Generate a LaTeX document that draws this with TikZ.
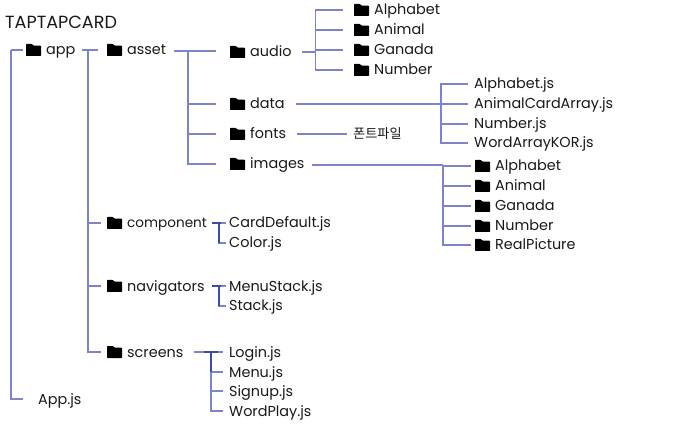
\documentclass[tikz,border=0pt]{standalone}
\usepackage{fontspec}
\setmainfont{Poppins}
\newfontfamily\krfont{Noto Sans CJK KR}
\usetikzlibrary{positioning,calc}
\definecolor{TreeLine}{HTML}{7C85C9}
\definecolor{TreeDark}{HTML}{3E4BAB}
\tikzset{
  ln/.style={TreeLine,line width=1.4pt},
  lndk/.style={TreeDark,line width=1.4pt},
  folder/.style={minimum width=15pt,minimum height=12pt,inner sep=0pt,outer sep=0pt,
    path picture={\fill[black,rounded corners=.7pt]
      ([yshift=-12pt]path picture bounding box.north west) --
      (path picture bounding box.north west) -- ++(6pt,0) -- ++(1.5pt,-1.6pt) --
      ([yshift=-1.6pt]path picture bounding box.north east) --
      (path picture bounding box.south east) -- cycle;}},
  lbl/.style={anchor=west,inner sep=0pt,text height=12pt,text depth=2pt,
    font=\fontsize{14.4}{16}\selectfont,text=black!90}
}
\begin{document}
\begin{tikzpicture}[x=1pt,y=-1pt]
  \useasboundingbox (0,0) rectangle (682,435);
  \node[lbl,font=\fontsize{17.6}{20}\selectfont] (root) at (5,23.5) {TAPTAPCARD};
  % app level
  \node[folder] (appf) at (33.5,50) {};
  \node[lbl,right=5pt of appf] (app) {app};
  \node[lbl] (appjs) at (38,399) {App.js};
  \node[folder] (assetf) at (114.5,50) {};
  \node[lbl,right=5pt of assetf] (asset) {asset};
  \node[folder] (compf) at (114.5,223) {};
  \node[lbl,right=5pt of compf,font=\fontsize{13.6}{16}\selectfont] (comp) {component};
  \node[folder] (navf) at (114.5,286) {};
  \node[lbl,right=5pt of navf] (nav) {navigators};
  \node[folder] (scrf) at (114.5,352) {};
  \node[lbl,right=5pt of scrf] (scr) {screens};
  % asset level
  \node[folder] (audiof) at (237.5,52) {};
  \node[lbl,right=5pt of audiof] (audio) {audio};
  \node[folder] (dataf) at (237.5,104) {};
  \node[lbl,right=5pt of dataf] (data) {data};
  \node[folder] (fontsf) at (237.5,134) {};
  \node[lbl,right=5pt of fontsf] (fonts) {fonts};
  \node[folder] (imagesf) at (237.5,164) {};
  \node[lbl,right=5pt of imagesf] (images) {images};
  \node[lbl,font=\krfont\fontsize{13.2}{15}\selectfont] (fontfile) at (353,134) {폰트파일};
  % audio folders
  \foreach \n/\t/\y in {aua/Alphabet/10,aub/Animal/30,auc/Ganada/50,aud/Number/70}{
    \node[folder] (\n f) at (361.5,\y) {};
    \node[lbl,right=5pt of \n f] (\n) {\t};
  }
  % images folders
  \foreach \n/\t/\y in {ima/Alphabet/166,imb/Animal/186,imc/Ganada/206,imd/Number/226,ime/RealPicture/245}{
    \node[folder] (\n f) at (482.5,\y) {};
    \node[lbl,right=5pt of \n f] (\n) {\t};
  }
  % js files
  \foreach \n/\t/\x/\y in {daa/Alphabet.js/474/84,dab/AnimalCardArray.js/474/104,dac/Number.js/474/124,dad/WordArrayKOR.js/474/143,
      cpa/CardDefault.js/229/223,cpb/Color.js/229/243,nva/MenuStack.js/229/286,nvb/Stack.js/229/306,
      sca/Login.js/229/352,scb/Menu.js/229/372,scc/Signup.js/229/391,scd/WordPlay.js/229/411}
    \node[lbl] (\n) at (\x,\y) {\t};
  % junctions
  \coordinate (jroot) at (11,50);
  \coordinate (japp) at (88,50);
  \coordinate (jasset) at (188,51);
  \coordinate (jaudio) at (315.5,52);
  \coordinate (jdata) at (441,104);
  \coordinate (jimages) at (443,165);
  \coordinate (jcomp) at (219,223);
  \coordinate (jnav) at (219,286);
  \coordinate (jscr) at (211,352);
  % free ends of the stubs
  \foreach \n/\x/\y in {sapp/82/50,tapp/98/50,tasset/216/51,sasset/174/51,saudio/302/52,sdata/296/104,
      sfonts/297/134,tfonts/347/134,simages/312/165,scomp/212/223,snav/212/286,sscr/194/352,tscr/223/352,
      troot/23/50}
    \coordinate (\n) at (\x,\y);
  % connectors
  \draw[ln,shorten >=15pt] (jroot) |- (appjs.west);
  \draw[ln] (jroot) -- (troot);
  \draw[ln] (sapp) -- (tapp);
  \foreach \b in {compf,navf,scrf}
    \draw[ln,shorten >=6pt] (japp) |- (\b.west);
  \draw[ln] (sasset) -- (tasset);
  \foreach \b in {dataf,fontsf,imagesf}
    \draw[ln,shorten >=14pt] (jasset) |- (\b.west);
  \draw[ln] (saudio) -- (jaudio);
  \foreach \b in {aua,aub,auc,aud}
    \draw[ln,shorten >=11pt] (jaudio) |- (\b f.west);
  \draw[ln] (sdata) -- (jdata);
  \foreach \b in {daa,dab,dac,dad}
    \draw[ln,shorten >=6pt] (jdata) |- (\b.west);
  \draw[ln] (sfonts) -- (tfonts);
  \draw[ln] (simages) -- (jimages);
  \foreach \b in {ima,imb,imc,imd,ime}
    \draw[ln,shorten >=4pt] (jimages) |- (\b f.west);
  \draw[ln,shorten >=3pt] (jcomp) |- (cpb.west);
  \draw[ln,shorten >=3pt] (jnav) |- (nvb.west);
  \draw[ln,shorten >=3pt] (scomp) -- (cpa.west);
  \draw[ln,shorten >=3pt] (snav) -- (nva.west);
  \draw[lndk] (scomp) -- ([xshift=2pt]jcomp) (jcomp) -- (cpb.west -| jcomp);
  \draw[lndk] (snav) -- ([xshift=2pt]jnav) (jnav) -- (nvb.west -| jnav);
  \draw[ln] (sscr) -- (tscr);
  \foreach \b in {scb,scc,scd}
    \draw[ln,shorten >=6pt] (jscr) |- (\b.west);
  \draw[lndk] ([xshift=-7pt]jscr) -- ([xshift=7pt]jscr) (jscr) -- (scb.west -| jscr);
\end{tikzpicture}
\end{document}
